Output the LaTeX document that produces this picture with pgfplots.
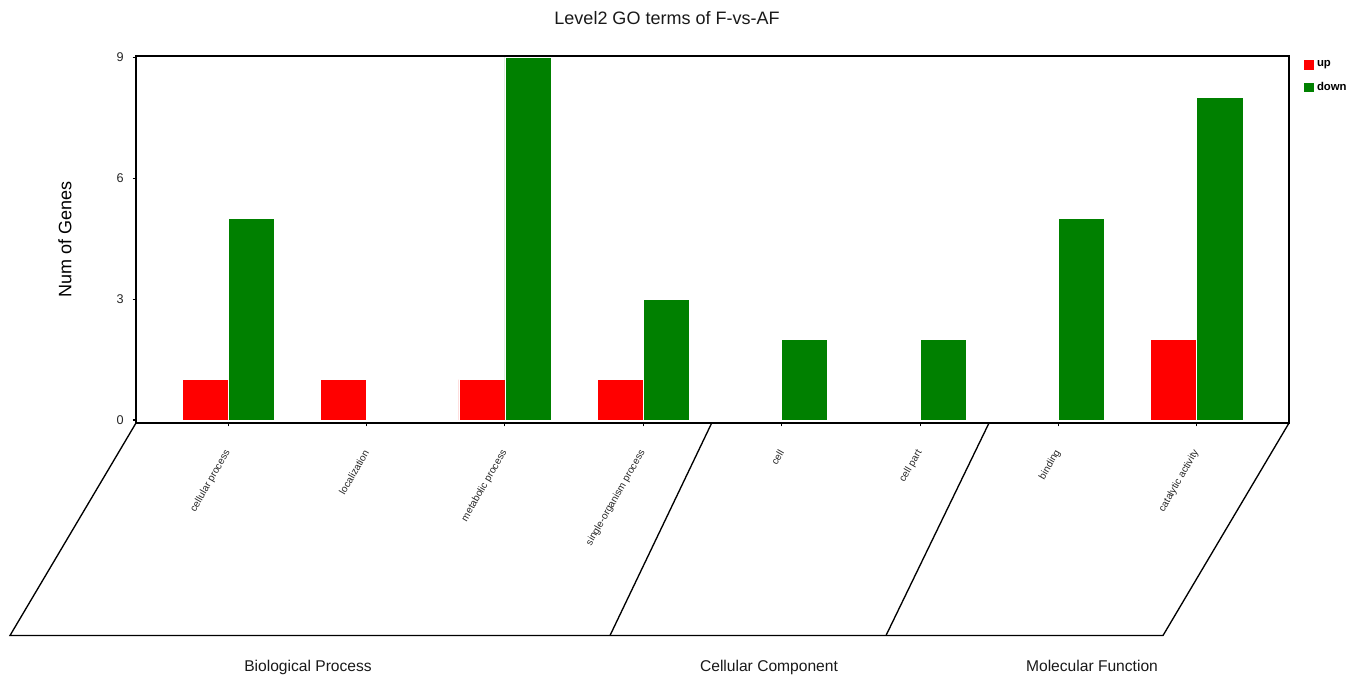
\documentclass[border=0pt]{standalone}
\usepackage{pgfplots}
\pgfplotsset{compat=1.18}
\usepackage{fontspec}
\setmainfont{Liberation Sans}
\definecolor{upred}{RGB}{255,0,0}
\definecolor{downgreen}{RGB}{0,128,0}

\begin{document}
\begin{tikzpicture}
\path[use as bounding box] (0pt,0pt) rectangle (1023.75pt,-509.25pt);
\begin{axis}[
  at={(102pt,-317.25pt)}, anchor=south west,
  width=864.75pt, height=275.25pt, scale only axis,
  xmin=-0.6667, xmax=7.6667, ymin=-0.075, ymax=9.03,
  ybar=0pt, bar width=0.333,
  line width=1pt,
  xtick={0,...,7},
  xticklabels={cellular process,localization,metabolic process,single-organism process,cell,cell part,binding,catalytic activity},
  ytick={0,3,6,9},
  tick align=outside, tick pos=left, major tick length=2.5pt,
  tick style={line width=0.8pt,black},
  /pgf/number format/assume math mode=true,
  yticklabel style={font=\fontsize{9.5}{11}\selectfont, text=black!85},
  yticklabel shift=3pt,
  xticklabel style={font=\fontsize{7.5}{9}\selectfont, text=black!85, rotate=60, anchor=east, inner sep=0pt},
  xticklabel shift=18pt,
  ylabel={Num of Genes},
  ylabel style={at={(axis description cs:-0.0616,0.5)}, anchor=center, font=\fontsize{13.5}{16}\selectfont},
  clip=false,
  legend style={at={(axis description cs:1,1)}, anchor=north west, draw=none, fill=none,
    font=\bfseries\fontsize{8.5}{10}\selectfont, inner xsep=0pt, inner ysep=0pt,
    row sep=6pt, xshift=10pt, yshift=-1pt},
  legend cell align=left,
  legend image code/.code={\fill[#1] (0pt,-4pt) rectangle (8pt,4pt);},
]
% bars with a count of zero are left out
\addplot[fill=upred, draw=white, line width=0.5pt] coordinates
  {(0,1) (1,1) (2,1) (3,1) (7,2)};
\addlegendentry{up}
\addplot[fill=downgreen, draw=white, line width=0.5pt] coordinates
  {(0,5) (2,9) (3,3) (4,2) (5,2) (6,5) (7,8)};
\addlegendentry{down}
\end{axis}
\begin{scope}[x=0.75pt,y=-0.75pt]
  % category group frame below the axis
  \draw[line width=1pt, line join=miter]
    (136,423) -- (10,635.5) -- (1163,635.5) -- (1289,423);
  \draw[line width=1pt] (711.7,423) -- (610,635.5);
  \draw[line width=1pt] (989,423) -- (886,635.5);
  \node[anchor=base, font=\fontsize{11.7}{14}\selectfont, text=black!90] at (308,671.5) {Biological Process};
  \node[anchor=base, font=\fontsize{11.7}{14}\selectfont, text=black!90] at (769,671.5) {Cellular Component};
  \node[anchor=base, font=\fontsize{11.7}{14}\selectfont, text=black!90] at (1092,671.5) {Molecular Function};
  \node[anchor=base, font=\fontsize{13.5}{16}\selectfont, text=black!90] at (667,24.3) {Level2 GO terms of F-vs-AF};
\end{scope}
\end{tikzpicture}
\end{document}
